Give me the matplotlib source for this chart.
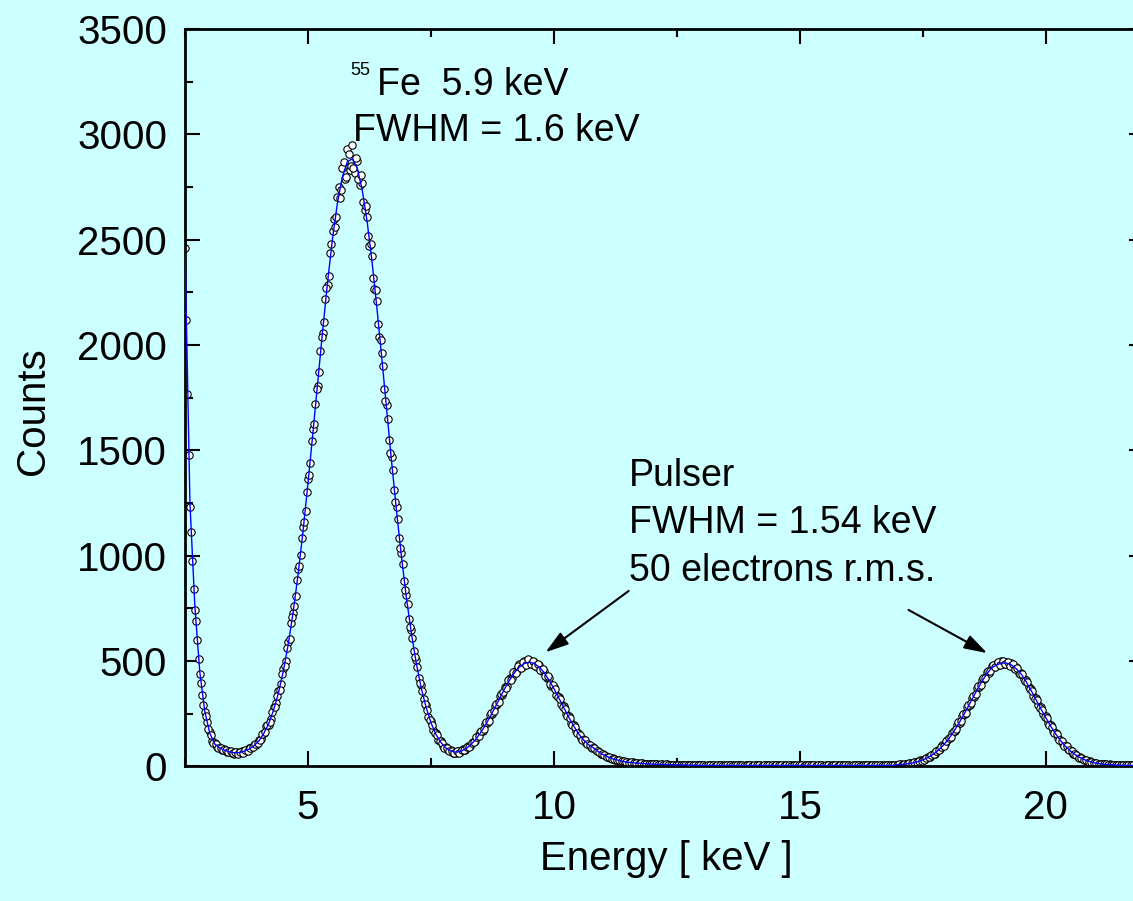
import numpy as np
import matplotlib
matplotlib.use('Agg')
import matplotlib.pyplot as plt
from matplotlib.ticker import MultipleLocator

plt.rcParams['font.family'] = ['Liberation Sans', 'DejaVu Sans']

# channel energies [keV], 0.05 keV per channel (even channels)
energy = np.round(2.5 + 0.05 * np.arange(387), 2)
# odd channels sit half way between
energy_odd = np.round(2.525 + 0.05 * np.arange(386), 3)

# measured counts, even channels
counts = [
    2460, 1770, 1230, 975, 745, 600, 440, 338, 258, 210,
    165, 122, 112, 92, 91, 79, 81, 70, 74, 63,
    60, 69, 62, 73, 69, 72, 88, 87, 103, 104,
    128, 131, 160, 190, 197, 227, 280, 301, 357, 390,
    461, 500, 590, 681, 728, 808, 938, 1005, 1137, 1214,
    1366, 1440, 1600, 1722, 1808, 1970, 2058, 2220, 2283, 2437,
    2540, 2560, 2705, 2700, 2840, 2790, 2930, 2830, 2950, 2815,
    2875, 2760, 2770, 2640, 2610, 2470, 2425, 2265, 2210, 2040,
    1960, 1790, 1715, 1548, 1470, 1310, 1232, 1085, 1012, 880,
    815, 700, 650, 548, 505, 420, 388, 318, 290, 236,
    214, 172, 160, 128, 120, 95, 92, 76, 79, 66,
    64, 74, 67, 82, 80, 95, 97, 118, 122, 147,
    162, 168, 200, 207, 244, 251, 287, 295, 333, 340,
    378, 383, 421, 420, 455, 452, 484, 470, 500, 485,
    505, 484, 498, 473, 480, 451, 455, 420, 418, 384,
    378, 340, 332, 295, 286, 250, 241, 207, 199, 169,
    160, 133, 131, 110, 108, 92, 93, 76, 74, 61,
    59, 48, 47, 38, 38, 31, 32, 25, 26, 21,
    21, 17, 19, 16, 17, 13, 15, 12, 14, 11,
    12, 10, 11, 9, 10, 8, 10, 8, 9, 7,
    8, 9, 7, 6, 8, 7, 5, 6, 7, 5,
    5, 6, 4, 5, 6, 5, 4, 6, 5, 5,
    4, 6, 5, 5, 4, 6, 5, 4, 5, 6,
    5, 4, 6, 5, 5, 4, 6, 5, 4, 5,
    6, 5, 4, 5, 6, 4, 5, 5, 6, 4,
    5, 5, 6, 4, 5, 6, 5, 4, 5, 5,
    4, 6, 5, 5, 4, 5, 6, 5, 4, 6,
    5, 4, 5, 6, 5, 5, 4, 6, 5, 5,
    6, 5, 4, 5, 5, 6, 5, 4, 6, 5,
    8, 10, 9, 13, 12, 16, 16, 22, 21, 29,
    33, 34, 45, 46, 60, 61, 78, 82, 101, 105,
    128, 134, 161, 168, 199, 205, 240, 247, 281, 290,
    325, 332, 371, 376, 412, 414, 448, 446, 478, 470,
    490, 480, 500, 485, 498, 480, 490, 466, 470, 445,
    446, 414, 410, 377, 370, 333, 325, 290, 280, 247,
    238, 205, 198, 168, 160, 134, 127, 105, 100, 82,
    77, 61, 59, 45, 44, 34, 33, 25, 24, 18,
    18, 14, 14, 11, 11, 8, 10, 7, 8, 6,
    7, 5, 6, 6, 5, 6, 5,
]

# measured counts, odd channels
counts_odd = [
    2120, 1480, 1115, 840, 690, 512, 398, 290, 240, 178,
    150, 113, 106, 88, 89, 76, 79, 68, 72, 62,
    68, 61, 70, 66, 78, 75, 90, 91, 108, 111,
    124, 152, 163, 197, 212, 258, 280, 336, 365, 437,
    476, 560, 605, 710, 764, 885, 950, 1085, 1160, 1305,
    1385, 1545, 1625, 1790, 1870, 2040, 2110, 2270, 2330, 2480,
    2600, 2610, 2750, 2735, 2870, 2800, 2905, 2850, 2840, 2890,
    2790, 2805, 2680, 2660, 2520, 2480, 2320, 2260, 2100, 2025,
    1900, 1735, 1650, 1490, 1405, 1255, 1175, 1035, 960, 838,
    770, 664, 608, 518, 470, 396, 358, 297, 268, 219,
    198, 161, 148, 119, 111, 90, 87, 74, 75, 65,
    72, 66, 77, 76, 91, 92, 111, 115, 138, 144,
    170, 179, 209, 218, 253, 262, 297, 307, 344, 352,
    372, 410, 412, 447, 444, 475, 468, 495, 482, 510,
    486, 500, 478, 485, 458, 462, 430, 428, 392, 388,
    367, 330, 320, 284, 275, 240, 230, 197, 189, 160,
    151, 128, 125, 105, 104, 89, 88, 72, 70, 57,
    56, 45, 45, 36, 37, 29, 30, 24, 25, 20,
    18, 20, 16, 18, 14, 16, 12, 14, 11, 13,
    10, 12, 9, 11, 8, 10, 8, 9, 7, 9,
    7, 8, 6, 8, 6, 7, 5, 7, 5, 6,
    6, 4, 5, 5, 6, 4, 5, 6, 4, 5,
    5, 5, 4, 6, 5, 5, 6, 4, 5, 5,
    4, 5, 6, 5, 4, 5, 5, 6, 5, 4,
    5, 6, 5, 4, 5, 5, 4, 6, 5, 6,
    6, 4, 5, 5, 6, 5, 4, 5, 6, 4,
    5, 5, 4, 6, 5, 4, 5, 6, 5, 5,
    4, 6, 5, 5, 4, 6, 5, 5, 4, 6,
    5, 5, 6, 4, 5, 5, 6, 5, 5, 7,
    10, 8, 12, 11, 15, 15, 20, 20, 27, 27,
    31, 42, 43, 55, 57, 73, 76, 94, 98, 121,
    137, 141, 170, 176, 209, 215, 250, 256, 293, 300,
    336, 343, 380, 386, 420, 422, 455, 452, 481, 472,
    494, 482, 500, 484, 496, 478, 486, 462, 466, 440,
    438, 405, 400, 366, 358, 322, 314, 278, 270, 236,
    228, 196, 189, 158, 152, 126, 120, 98, 95, 76,
    72, 57, 55, 42, 41, 31, 31, 23, 23, 17,
    17, 13, 13, 10, 10, 8, 9, 7, 7, 6,
    6, 5, 7, 5, 6, 5,
]

# smoothed spectrum, every second even channel
fit_energy = energy[::2]
fit_counts = [
    2460, 1250, 760, 450, 265,
    160, 108, 88, 77, 70,
    65, 66, 72, 82, 98,
    121, 156, 203, 267, 349,
    454, 582, 735, 914, 1118,
    1344, 1583, 1829, 2072, 2302,
    2507, 2676, 2799, 2870, 2884,
    2840, 2740, 2591, 2401, 2180,
    1941, 1693, 1447, 1214, 997,
    803, 636, 493, 375, 282,
    208, 153, 115, 88, 74,
    68, 71, 83, 101, 126,
    157, 193, 235, 279, 325,
    370, 410, 446, 472, 489,
    495, 489, 472, 446, 410,
    370, 325, 279, 235, 193,
    155, 127, 104, 89, 71,
    56, 45, 36, 30, 24,
    20, 18, 16, 14, 13,
    11, 10, 10, 9, 8,
    8, 7, 7, 6, 6,
    5, 5, 5, 5, 5, 5, 5, 5, 5, 5,
    5, 5, 5, 5, 5, 5, 5, 5, 5, 5,
    5, 5, 5, 5, 5, 5, 5, 5, 5, 5,
    5, 5, 5, 5, 5, 5, 5, 5, 5, 5,
    9, 10, 13, 17, 23,
    31, 42, 56, 74, 96,
    123, 155, 192, 232, 274,
    318, 362, 403, 439, 468,
    482, 491, 491, 482, 464,
    439, 403, 362, 318, 274,
    232, 192, 155, 123, 96,
    74, 56, 42, 31, 23,
    17, 13, 10, 9, 7,
    6, 6, 5, 5,
]

bg = '#ccffff'
fig = plt.figure(figsize=(11.33, 9.01), dpi=100, facecolor=bg)
ax = fig.add_axes([0.1633, 0.1493, 0.8465, 0.8185])
ax.set_facecolor(bg)

all_e = np.concatenate([energy, energy_odd])
all_c = np.concatenate([counts, counts_odd])
ax.plot(all_e, all_c, 'o', ms=5.3, mfc='white', mec='black', mew=0.8, zorder=2)
ax.plot(fit_energy, fit_counts, '-', color='#0000ff', lw=1.0, zorder=3)

ax.set_xlim(2.5, 22)
ax.set_ylim(0, 3500)
ax.xaxis.set_major_locator(MultipleLocator(5))
ax.xaxis.set_minor_locator(MultipleLocator(2.5))
ax.yaxis.set_major_locator(MultipleLocator(500))
ax.yaxis.set_minor_locator(MultipleLocator(250))
ax.tick_params(which='both', direction='in', top=True, right=True,
               width=1.5, labelsize=29, colors='black')
ax.tick_params(which='major', length=11)
ax.tick_params(which='minor', length=6)
ax.tick_params(axis='x', pad=16)
ax.tick_params(axis='y', pad=13)
for s in ax.spines.values():
    s.set_linewidth(2)

fig.text(666 / 1133, 1 - 870 / 901, 'Energy [ keV ]', fontsize=29,
         ha='center', va='baseline')
fig.text(33 / 1133, 1 - 411 / 901, 'Counts', fontsize=29, rotation=90,
         ha='center', va='center')

# peak labels
ax.text(5.854, 3281, '55', fontsize=13, ha='left', va='baseline')
ax.text(6.396, 3186, 'Fe  5.9 keV', fontsize=27, ha='left', va='baseline')
ax.text(5.909, 2967, 'FWHM = 1.6 keV', fontsize=27, ha='left', va='baseline')

ax.text(11.52, 1333, 'Pulser', fontsize=27, ha='left', va='baseline')
ax.text(11.52, 1107, 'FWHM = 1.54 keV', fontsize=27, ha='left', va='baseline')
ax.text(11.52, 878, '50 electrons r.m.s.', fontsize=27, ha='left', va='baseline')

arrow = dict(arrowstyle='-|>,head_length=0.7,head_width=0.22', color='black',
             lw=1.5, mutation_scale=20, shrinkA=0, shrinkB=0)
ax.annotate('', xy=(9.83, 542), xytext=(11.52, 833), arrowprops=arrow)
ax.annotate('', xy=(18.81, 538), xytext=(17.21, 743), arrowprops=arrow)

fig.savefig('out.png', dpi=100, facecolor=bg)
